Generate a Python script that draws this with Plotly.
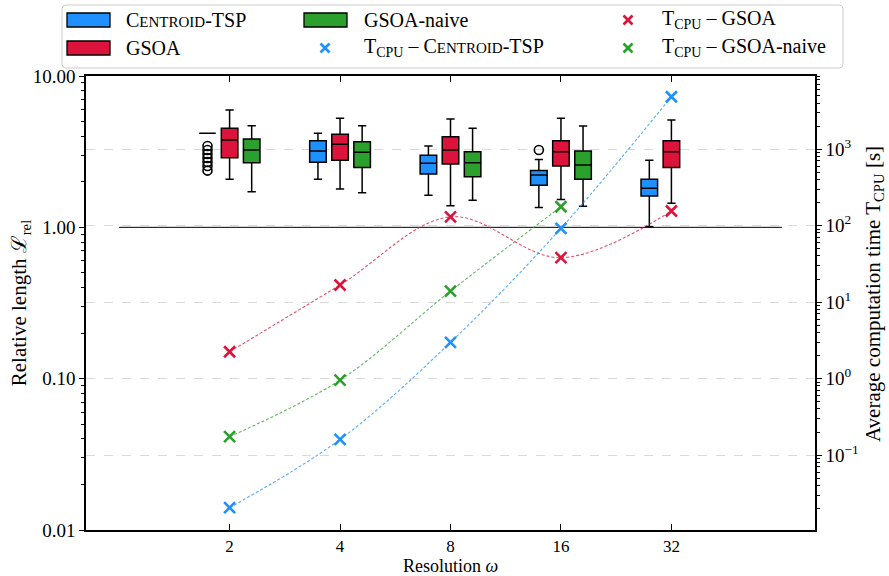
import plotly.graph_objects as go
import numpy as np

# ---------------- data ----------------
resolutions = [2, 4, 8, 16, 32]
positions = [1, 2, 3, 4, 5]

# relative length box statistics (left axis)
cen_low = [4.18, 2.08, 1.63, 1.35, 1.01]
cen_q1 = [4.18, 2.69, 2.25, 1.90, 1.61]
cen_med = [4.18, 3.19, 2.65, 2.22, 1.81]
cen_q3 = [4.18, 3.73, 3.00, 2.37, 2.08]
cen_up = [4.18, 4.18, 3.45, 2.81, 2.78]

gsoa_low = [2.08, 1.79, 1.39, 1.53, 1.44]
gsoa_q1 = [2.88, 2.78, 2.62, 2.54, 2.49]
gsoa_med = [3.78, 3.54, 3.24, 3.16, 3.16]
gsoa_q3 = [4.51, 4.12, 3.97, 3.73, 3.73]
gsoa_up = [5.96, 5.25, 5.20, 5.25, 5.12]

naive_res = [2, 4, 8, 16]
naive_low = [1.72, 1.69, 1.51, 1.38]
naive_q1 = [2.67, 2.49, 2.16, 2.08]
naive_med = [3.24, 3.13, 2.67, 2.58]
naive_q3 = [3.83, 3.68, 3.16, 3.19]
naive_up = [4.69, 4.69, 4.51, 4.67]

cen_out_res = [2, 2, 2, 2, 2, 2, 2, 16]
cen_out_val = [3.45, 3.24, 3.05, 2.87, 2.70, 2.54, 2.37, 3.24]

# average computation time (right axis)
t_cen = [0.0205, 0.16, 2.97, 92, 4830]
t_gsoa = [2.24, 16.7, 130, 38, 155]
t_naive_res = [2, 4, 8, 16]
t_naive = [0.174, 0.955, 13.9, 176]

left_ticks = [10, 1, 0.1, 0.01]
left_ticktext = ["10.00", "1.00", "0.10", "0.01"]
right_ticks = [0.1, 1, 10, 100, 1000]
right_ticktext = ["10<sup>−1</sup>", "10<sup>0</sup>", "10<sup>1</sup>", "10<sup>2</sup>", "10<sup>3</sup>"]

# ---------------- style ----------------
BLUE = "#1E90FF"
RED = "#DC143C"
GREEN = "#2CA02C"
FONT = "Liberation Serif"
FS_TICK = 19
FS_LEG = 20
FS_TITLE = 21
OFF = 0.2
BW = 0.15

pos_of = dict(zip(resolutions, positions))

def xs(res_list, off=0.0):
    return [pos_of[r] + off for r in res_list]

fig = go.Figure()

def add_box(res_list, off, low, q1, med, q3, up, color, name):
    fig.add_trace(go.Box(
        x=xs(res_list, off), q1=q1, median=med, q3=q3,
        lowerfence=low, upperfence=up,
        width=BW, whiskerwidth=0.5,
        fillcolor=color, line=dict(color="black", width=1.5),
        boxpoints=False, name=name, showlegend=False,
        yaxis="y", xaxis="x", hoverinfo="skip"))

add_box(resolutions, -OFF, cen_low, cen_q1, cen_med, cen_q3, cen_up, BLUE, "Centroid-TSP")
add_box(resolutions, 0.0, gsoa_low, gsoa_q1, gsoa_med, gsoa_q3, gsoa_up, RED, "GSOA")
add_box(naive_res, OFF, naive_low, naive_q1, naive_med, naive_q3, naive_up, GREEN, "GSOA-naive")

fig.add_trace(go.Scatter(
    x=xs(cen_out_res, -OFF), y=cen_out_val, mode="markers",
    marker=dict(symbol="circle-open", size=9, color="black", line=dict(width=1.6, color="black")),
    showlegend=False, yaxis="y"))

# reference line at relative length 1
fig.add_trace(go.Scatter(x=[0, 6], y=[1, 1], mode="lines",
                         line=dict(color="black", width=1.0), showlegend=False, yaxis="y"))

def add_time(res_list, vals, color, rgba):
    fig.add_trace(go.Scatter(
        x=xs(res_list), y=vals, mode="lines+markers",
        line=dict(color=rgba, width=1.1, dash="3px,2px", shape="spline", smoothing=1.0),
        marker=dict(symbol="x-thin", size=11, color=color, line=dict(width=2.6, color=color)),
        showlegend=False, yaxis="y2"))

add_time(resolutions, t_cen, BLUE, "rgba(30,144,255,0.75)")
add_time(resolutions, t_gsoa, RED, "rgba(220,20,60,0.75)")
add_time(t_naive_res, t_naive, GREEN, "rgba(44,160,44,0.75)")

# minor ticks
def minors(lo, hi):
    out = []
    for e in range(-3, 5):
        for k in range(2, 10):
            v = k * 10.0 ** e
            if lo <= v <= hi:
                out.append(v)
    return out

L, R, T, B = 86, 74, 76, 46
W, H = 889, 576
PW, PH = W - L - R, H - T - B

def px(x):
    return (x - L) / PW

def py(y):
    return (H - B - y) / PH

shapes = []
annotations = []

# legend frame (rounded)
x0, x1, y0, y1 = px(62), px(843), py(5), py(68)
r = 4
rx, ry = r / PW, r / PH
path = (f"M{x0+rx},{y0} L{x1-rx},{y0} Q{x1},{y0} {x1},{y0-ry} L{x1},{y1+ry} Q{x1},{y1} {x1-rx},{y1} "
        f"L{x0+rx},{y1} Q{x0},{y1} {x0},{y1+ry} L{x0},{y0-ry} Q{x0},{y0} {x0+rx},{y0} Z")
shapes.append(dict(type="path", xref="paper", yref="paper", path=path,
                   line=dict(color="#cccccc", width=1), fillcolor="rgba(255,255,255,0.85)", layer="above"))

def patch(xl, yc, color):
    shapes.append(dict(type="rect", xref="paper", yref="paper",
                       x0=px(xl), x1=px(xl + 43), y0=py(yc - 7), y1=py(yc + 7),
                       fillcolor=color, line=dict(color="black", width=1.3), layer="above"))

def xmark(xc, yc, color):
    s = 4.5
    shapes.append(dict(type="line", xref="paper", yref="paper", x0=px(xc - s), x1=px(xc + s),
                       y0=py(yc - s), y1=py(yc + s), line=dict(color=color, width=2.6), layer="above"))
    shapes.append(dict(type="line", xref="paper", yref="paper", x0=px(xc - s), x1=px(xc + s),
                       y0=py(yc + s), y1=py(yc - s), line=dict(color=color, width=2.6), layer="above"))

def label(xl, yc, text):
    annotations.append(dict(x=px(xl), y=py(yc), xref="paper", yref="paper", text=text,
                            showarrow=False, xanchor="left", yanchor="middle",
                            font=dict(family=FONT, size=FS_LEG, color="black")))

SC = '<span style="font-size:15px">'
cen_txt = f"C{SC}ENTROID</span>-TSP"
row1, row2 = 20, 48
patch(67, row1, BLUE); label(124, row1, cen_txt)
patch(67, row2, RED); label(124, row2, "GSOA")
patch(304, row1, GREEN); label(362, row1, "GSOA-naive")
xmark(325, row2, BLUE); label(362, row2, "T<sub>CPU</sub> – " + cen_txt)
xmark(628, row1, RED); label(660, row1, "T<sub>CPU</sub> – GSOA")
xmark(628, row2, GREEN); label(660, row2, "T<sub>CPU</sub> – GSOA-naive")

# right axis title
annotations.append(dict(x=px(874), y=py(294), xref="paper", yref="paper",
                        text="Average computation time T<sub>CPU</sub> [s]", textangle=-90,
                        showarrow=False, xanchor="center", yanchor="middle",
                        font=dict(family=FONT, size=FS_TITLE, color="black")))

# x axis title
annotations.append(dict(x=px(450), y=py(578), xref="paper", yref="paper",
                        text="Resolution <i>ω</i>",
                        showarrow=False, xanchor="center", yanchor="bottom",
                        font=dict(family=FONT, size=18, color="black")))

tick_font = dict(family=FONT, size=FS_TICK, color="black")
title_font = dict(family=FONT, size=FS_TITLE, color="black")

fig.update_layout(
    width=W, height=H, autosize=False,
    margin=dict(l=L, r=R, t=T, b=B, pad=0, autoexpand=False),
    paper_bgcolor="white", plot_bgcolor="white",
    font=dict(family=FONT, size=FS_TICK, color="black"),
    boxmode="overlay",
    showlegend=False,
    shapes=shapes, annotations=annotations,
    xaxis=dict(range=[-0.3, 6.3], tickvals=positions, ticktext=[str(r) for r in resolutions],
               automargin=False,
               ticks="inside", ticklen=6, tickwidth=1.2, tickcolor="black",
               showline=True, linecolor="black", linewidth=1.5, mirror="ticks",
               showgrid=False, zeroline=False, tickfont=dict(family=FONT, size=17, color="black")),
    yaxis=dict(type="log", range=[-2, 1], tickvals=left_ticks, ticktext=left_ticktext,
               automargin=False,
               ticks="outside", ticklen=5, tickwidth=1.2, tickcolor="black",
               minor=dict(tickvals=minors(0.01, 10), ticks="outside", ticklen=3,
                          tickwidth=1, tickcolor="black", showgrid=False),
               showline=True, linecolor="black", linewidth=1.5,
               showgrid=False, zeroline=False, tickfont=tick_font,
               title=dict(text="Relative length ℒ<sub>rel</sub>", font=title_font, standoff=0)),
    yaxis2=dict(type="log", range=[-1.98, 3.955], overlaying="y", side="right",
                automargin=False,
                tickvals=right_ticks, ticktext=right_ticktext,
                ticks="outside", ticklen=5, tickwidth=1.2, tickcolor="black",
                minor=dict(tickvals=minors(0.0104, 9100), ticks="outside", ticklen=3,
                           tickwidth=1, tickcolor="black", showgrid=False),
                showline=True, linecolor="black", linewidth=1.5,
                showgrid=True, gridcolor="#d9d9d9", griddash="dash", gridwidth=1,
                zeroline=False, tickfont=tick_font),
)

fig.write_html("out.html", config={"displayModeBar": False},
               post_script="document.body.style.margin='0';document.body.style.padding='0';")
